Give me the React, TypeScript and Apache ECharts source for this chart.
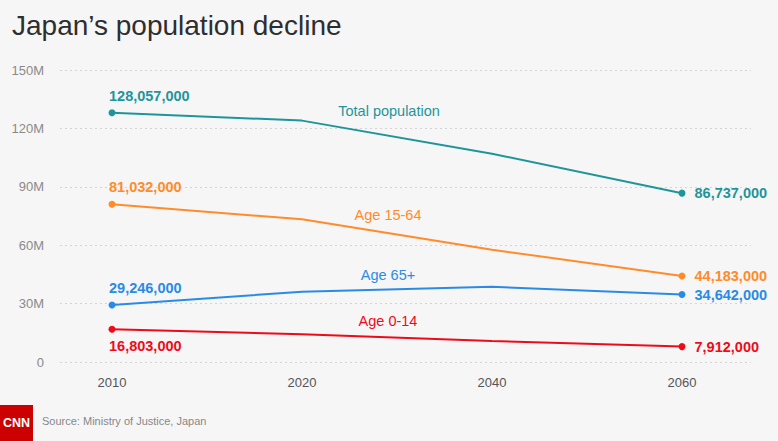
import React, { useEffect, useRef } from "react";
import * as echarts from "echarts";

const years = ["2010", "2020", "2040", "2060"];
const total = [128057000, 124000000, 107000000, 86737000];
const age1564 = [81032000, 73300000, 57700000, 44183000];
const age65 = [29246000, 36100000, 38600000, 34642000];
const age014 = [16803000, 14300000, 10800000, 7912000];
const yTicks = [0, 30000000, 60000000, 90000000, 120000000, 150000000];

const seriesDefs = [
  { name: "Total population", data: total, color: "#1f959b", firstPos: "top", nameOffset: [87, -10] },
  { name: "Age 15-64", data: age1564, color: "#ff8b2b", firstPos: "top", nameOffset: [86, -4] },
  { name: "Age 65+", data: age65, color: "#2a8be6", firstPos: "top", nameOffset: [86, -17] },
  { name: "Age 0-14", data: age014, color: "#ef0a1a", firstPos: "bottom", nameOffset: [86, -13] },
];

const FONT = "'Liberation Sans', Arial, sans-serif";
const fmt = (v: number) => v.toLocaleString("en-US");

export default function App() {
  const ref = useRef<HTMLDivElement>(null);
  useEffect(() => {
    document.body.style.margin = "0";
    const chart = echarts.init(ref.current!, undefined, { renderer: "svg" });
    const valueLabel = (color: string) => ({
      show: true,
      color,
      fontFamily: FONT,
      fontWeight: "bold" as const,
      fontSize: 14.5,
      formatter: (p: any) => fmt(p.value),
    });
    const series = seriesDefs.map((s) => ({
      type: "line",
      name: s.name,
      xAxisIndex: 1,
      yAxisIndex: 1,
      symbol: "circle",
      symbolSize: 7,
      showAllSymbol: true,
      lineStyle: { color: s.color, width: 2 },
      itemStyle: { color: s.color },
      emphasis: { disabled: true },
      data: s.data.map((v, i) => {
        if (i === 0) {
          return {
            value: v,
            label: { ...valueLabel(s.color), position: s.firstPos, align: "left", offset: [-3, 0], distance: 6 },
          };
        }
        if (i === s.data.length - 1) {
          return {
            value: v,
            label: { ...valueLabel(s.color), position: "right", distance: 9 },
          };
        }
        if (i === 1) {
          return {
            value: v,
            symbolSize: 0,
            label: {
              show: true,
              position: "inside",
              offset: s.nameOffset,
              color: s.color,
              fontFamily: FONT,
              fontSize: 14.5,
              formatter: s.name,
            },
          };
        }
        return { value: v, symbolSize: 0 };
      }),
    }));
    chart.setOption({
      animation: false,
      backgroundColor: "#f6f6f6",
      title: {
        text: "Japan\u2019s population decline",
        left: 7,
        top: 6,
        textStyle: { fontFamily: FONT, fontWeight: "normal", fontSize: 28, color: "#2e2e2e" },
      },
      grid: [
        { left: 60, right: 27, top: 70, bottom: 79 },
        { left: 112, right: 96, top: 70, bottom: 79 },
      ],
      xAxis: [
        { type: "value", gridIndex: 0, min: 0, max: 1, show: false },
        {
          type: "category",
          gridIndex: 1,
          data: years,
          boundaryGap: false,
          axisLine: { show: false },
          axisTick: { show: false },
          axisLabel: { color: "#555", fontFamily: FONT, fontSize: 13, margin: 14 },
        },
      ],
      yAxis: [
        {
          type: "value",
          gridIndex: 0,
          min: yTicks[0],
          max: yTicks[yTicks.length - 1],
          interval: yTicks[1] - yTicks[0],
          axisLine: { show: false },
          axisTick: { show: false },
          axisLabel: {
            color: "#8a8a8a",
            fontFamily: FONT,
            fontSize: 13,
            margin: 16,
            formatter: (v: number) => (v === 0 ? "0" : v / 1000000 + "M"),
          },
          splitLine: { lineStyle: { color: "#d4d4d4", type: [2, 3], width: 1 } },
        },
        {
          type: "value",
          gridIndex: 1,
          min: yTicks[0],
          max: yTicks[yTicks.length - 1],
          show: false,
          splitLine: { show: false },
        },
      ],
      series,
      graphic: [
        { type: "rect", left: 0, top: 405, shape: { width: 33, height: 36 }, style: { fill: "#cc0000" } },
        {
          type: "text",
          left: 3,
          top: 416,
          style: { text: "CNN", fill: "#fff", fontFamily: FONT, fontWeight: "bold", fontSize: 12.5 },
        },
        {
          type: "text",
          left: 42,
          top: 415,
          style: { text: "Source: Ministry of Justice, Japan", fill: "#888", fontFamily: FONT, fontSize: 11 },
        },
      ],
    });
    return () => chart.dispose();
  }, []);
  return (
    <div
      ref={ref}
      style={{ position: "fixed", left: 0, top: 0, width: 778, height: 441, background: "#f6f6f6" }}
    />
  );
}
